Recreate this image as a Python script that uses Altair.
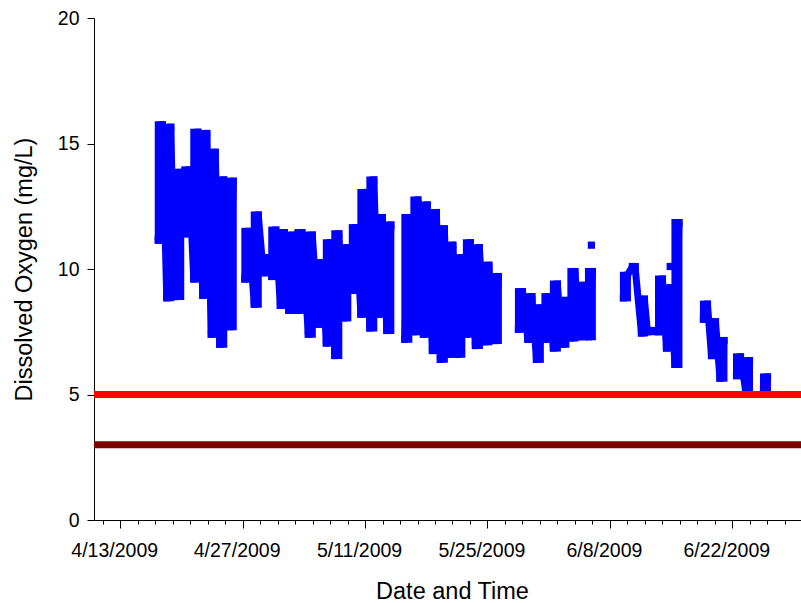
import altair as alt
import pandas as pd

DAY_MS = 86_400_000
# Elapsed time is counted in days from 13 April 2009, 00:00 UTC
T0_MS = int(pd.Timestamp("2009-04-13", tz="UTC").value // 1_000_000)

# Dissolved-oxygen record: daily low / high readings, in time order
elapsed_days = [
    4.35, 4.81, 5.32, 5.78, 6.24, 6.92, 7.38, 7.84, 8.41, 8.87,
    9.44, 9.90, 10.41, 10.87, 11.38, 11.84, 12.47, 12.93,
    14.25, 14.70, 15.33, 15.79, 16.36, 16.82, 17.33, 17.79, 18.31, 18.76,
    19.28, 19.74, 20.31, 20.77, 21.51, 21.97, 22.65, 23.11, 23.57, 24.03,
    24.54, 25.00, 25.57, 26.03, 26.54, 27.00, 27.52, 27.97, 28.55, 29.00,
    29.52, 29.98, 30.49, 30.95,
    32.55, 33.01, 33.58, 34.04, 34.67, 35.13, 35.70, 36.16, 36.61, 37.07,
    37.59, 38.04, 38.62, 39.07, 39.59, 40.05, 40.62, 41.08, 41.70, 42.16,
    42.79, 43.25,
    45.54, 46.00, 46.62, 47.08, 47.60, 48.05, 48.57, 49.03, 49.54, 50.00,
    50.51, 50.97, 51.54, 52.00, 52.57, 53.03, 53.55, 54.00,
    57.55, 58.01, 58.58, 58.92, 59.61, 59.95, 60.30, 60.98,
    61.56, 62.01, 62.47, 62.93, 63.44, 63.90,
    66.70, 67.16, 67.62, 68.08, 68.59, 69.05,
    70.48, 70.94, 71.51, 71.97,
    73.57, 74.03,
]
do_mgl = [
    11.15, 15.75, 8.85, 15.65, 8.90, 13.85, 11.40, 13.95, 9.60, 15.45,
    8.95, 15.40, 7.40, 14.65, 7.00, 13.55, 7.70, 13.50,
    9.60, 11.50, 8.60, 12.15, 9.85, 10.45, 9.70, 11.55, 8.55, 11.45,
    8.35, 11.35, 8.35, 11.45, 7.40, 11.35, 7.80, 10.25, 7.05, 11.05,
    6.55, 11.40, 8.05, 10.85, 9.15, 11.65, 8.20, 13.05, 7.65, 13.55,
    8.20, 12.05, 7.55, 11.75,
    7.20, 12.05, 7.50, 12.75, 7.40, 12.55, 6.75, 12.25, 6.40, 11.60,
    6.60, 10.95, 6.60, 10.45, 7.40, 11.05, 6.95, 10.85, 7.10, 10.15,
    7.15, 9.70,
    7.60, 9.10, 7.20, 8.90, 6.40, 8.45, 7.20, 8.90, 6.85, 9.40,
    7.00, 8.75, 7.25, 9.90, 7.30, 9.35, 7.30, 9.90,
    8.85, 9.75, 10.10, 9.95, 7.45, 8.80, 7.50, 7.55,
    7.50, 9.60, 6.85, 9.25, 6.20, 11.85,
    8.00, 8.60, 6.55, 7.90, 5.65, 7.15,
    5.75, 6.50, 5.20, 6.35,
    5.20, 5.70,
]

# Isolated single readings
spot_days = [53.89, 62.90]
spot_do = [10.95, 10.10]

# Water-quality criteria lines
criteria_values = [5.0, 3.0]
criteria_colors = ["#FF0000", "#800000"]

# Axis ticks: minor every 2 days, labelled every 14 days
tick_days = list(range(-2, 78, 2))
domain_days = [-3.0, 77.86]


def to_ms(days):
    return [T0_MS + d * DAY_MS for d in days]


series = pd.DataFrame({"time": to_ms(elapsed_days), "do": do_mgl})
series["run"] = (pd.Series(elapsed_days).diff() > 1.0).cumsum()

# Each consecutive (low, high) pair spans one sampling window
pairs = pd.DataFrame({
    "t0": series["time"].iloc[0::2].to_numpy(),
    "t1": series["time"].iloc[1::2].to_numpy(),
    "lo": series["do"].iloc[0::2].to_numpy(),
    "hi": series["do"].iloc[1::2].to_numpy(),
})

spots = pd.DataFrame({"time": to_ms(spot_days), "do": spot_do})
points = pd.concat([series[["time", "do"]], spots], ignore_index=True)

criteria = pd.DataFrame({"level": criteria_values, "color": criteria_colors})

tick_ms = to_ms(tick_days)
major_test = f"abs((+datum.value - {T0_MS}) % {14 * DAY_MS}) < 1"

FONT = "Liberation Sans"
BLUE = "#0000FF"

x_scale = alt.Scale(
    type="utc",
    domain=[T0_MS + domain_days[0] * DAY_MS, T0_MS + domain_days[1] * DAY_MS],
    nice=False,
)
y_scale = alt.Scale(domain=[0, 20], nice=False, zero=True)

x_axis = alt.Axis(
    title="Date and Time",
    values=tick_ms,
    tickCount=100,
    labelExpr=f"{major_test} ? utcFormat(datum.value, '%-m/%-d/%Y') : ''",
    tickSize={"condition": {"test": major_test, "value": 8}, "value": 4},
    labelOverlap=False,
    labelFlush=False,
    labelOffset=-6,
    labelFont=FONT,
    labelFontSize=19.5,
    labelColor="#000000",
    labelBaseline="alphabetic",
    labelPadding=28,
    titleFont=FONT,
    titleFontSize=23.5,
    titleFontWeight="normal",
    titleColor="#000000",
    titleBaseline="alphabetic",
    titleY=78,
    titleX=358,
    grid=False,
)
y_axis = alt.Axis(
    title="Dissolved Oxygen (mg/L)",
    values=[0, 5, 10, 15, 20],
    tickSize=7,
    labelPadding=8,
    labelFont=FONT,
    labelFontSize=19.5,
    labelColor="#000000",
    titleFont=FONT,
    titleFontSize=23.5,
    titleFontWeight="normal",
    titleColor="#000000",
    titleBaseline="bottom",
    titleX=-58,
    titleY=251,
    grid=False,
)

# Filled band covering each low/high window, outlined by the marker width
bands = alt.Chart(pairs).mark_rect(
    color=BLUE, stroke=BLUE, strokeWidth=7, strokeJoin="miter"
).encode(
    x=alt.X("t0:T", scale=x_scale, axis=x_axis),
    x2="t1:T",
    y=alt.Y("lo:Q", scale=y_scale, axis=y_axis),
    y2="hi:Q",
)

trace = alt.Chart(series).mark_line(
    color=BLUE, strokeWidth=7, strokeJoin="bevel", strokeCap="butt"
).encode(
    x=alt.X("time:T", scale=x_scale),
    y=alt.Y("do:Q", scale=y_scale),
    detail="run:N",
)

markers = alt.Chart(points).mark_square(
    color=BLUE, size=52, opacity=1
).encode(
    x=alt.X("time:T", scale=x_scale),
    y=alt.Y("do:Q", scale=y_scale),
)

limits = alt.Chart(criteria).mark_rule(strokeWidth=7).encode(
    y=alt.Y("level:Q", scale=y_scale),
    color=alt.Color("color:N", scale=None),
)

chart = alt.layer(bands, trace, markers, limits).properties(
    width=707,
    height=502,
    autosize=alt.AutoSizeParams(type="none"),
    padding={"left": 94, "top": 18, "right": 0, "bottom": 83},
).configure_view(
    stroke=None
).configure_axis(
    domainColor="#000000",
    tickColor="#000000",
    domainWidth=1,
    tickWidth=1,
)

chart.save("out.html", embed_options={"renderer": "svg", "actions": False})
